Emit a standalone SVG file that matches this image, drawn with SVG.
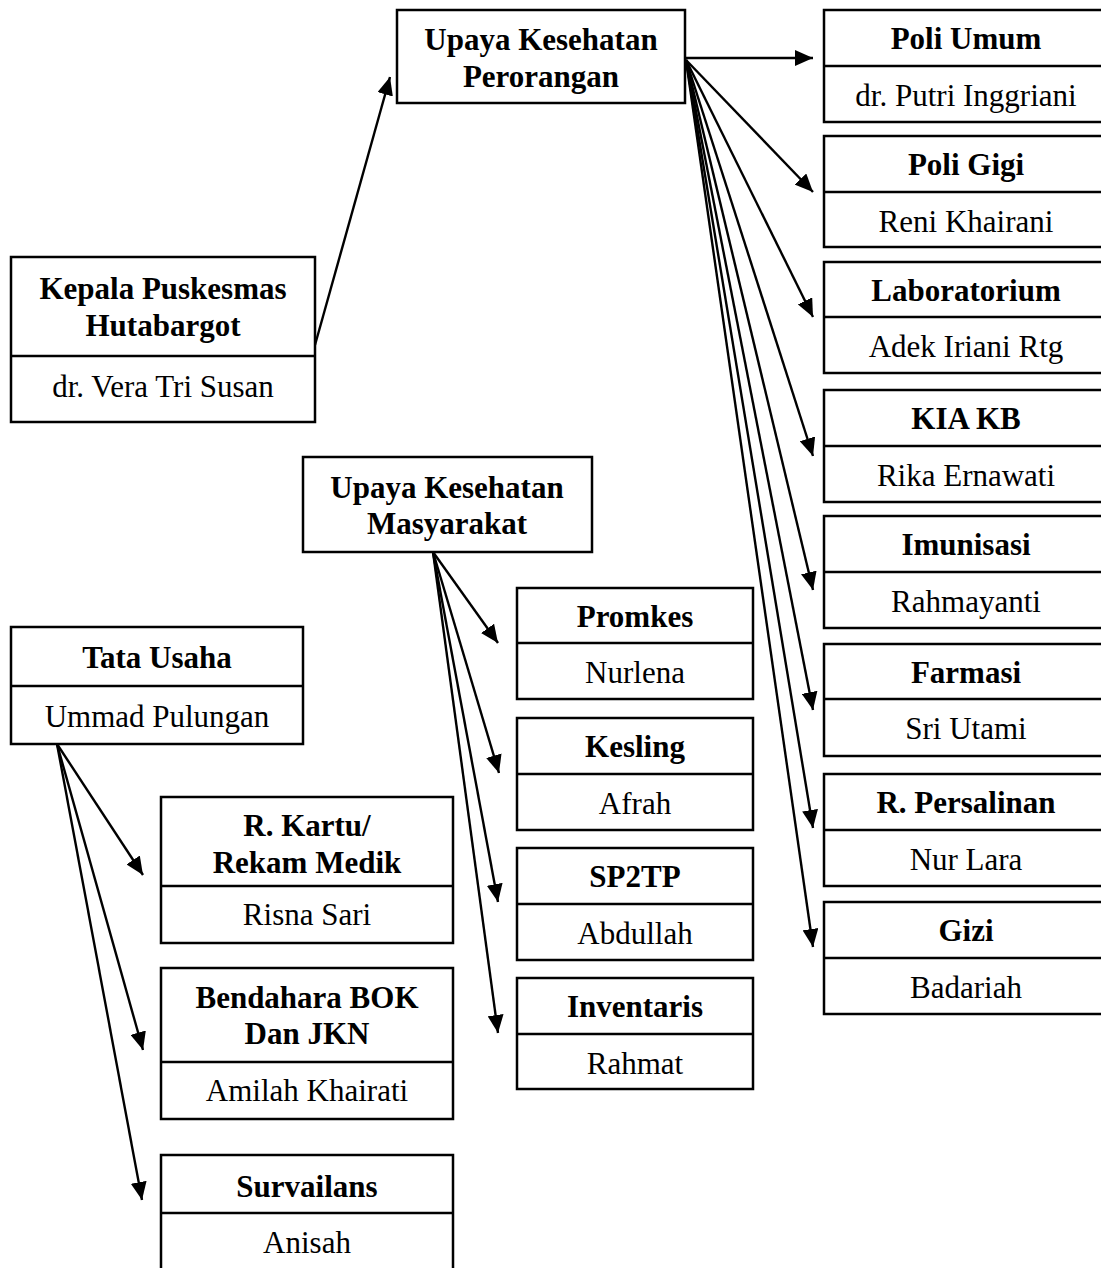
<svg xmlns="http://www.w3.org/2000/svg" width="1101" height="1268" viewBox="0 0 1101 1268">
<style>
.box{fill:#fff;stroke:#000;stroke-width:2.5}
.div{stroke:#000;stroke-width:2.5}
.t{font-family:"Liberation Serif","Times New Roman",serif;font-size:31px;font-weight:bold;text-anchor:middle;fill:#000}
.n{font-family:"Liberation Serif","Times New Roman",serif;font-size:31px;text-anchor:middle;fill:#000}
.c{stroke:#000;stroke-width:2.4;fill:none;marker-end:url(#ah)}
</style>
<defs>
<marker id="ah" markerUnits="userSpaceOnUse" markerWidth="20" markerHeight="16" refX="18" refY="8" orient="auto">
<path d="M0,0 L18,8 L0,16 z" fill="#000"/>
</marker>
</defs>
<rect width="1101" height="1268" fill="#fff"/>
<g id="connectors">
<line class="c" x1="315" y1="345" x2="390" y2="77"/>
<line class="c" x1="685" y1="58" x2="813" y2="58"/>
<line class="c" x1="686" y1="60" x2="813" y2="192"/>
<line class="c" x1="686" y1="60" x2="813" y2="317"/>
<line class="c" x1="686" y1="60" x2="813" y2="456"/>
<line class="c" x1="686" y1="60" x2="813" y2="590"/>
<line class="c" x1="686" y1="60" x2="813" y2="710"/>
<line class="c" x1="686" y1="60" x2="813" y2="828"/>
<line class="c" x1="686" y1="60" x2="813" y2="947"/>
<line class="c" x1="433" y1="552" x2="498" y2="643"/>
<line class="c" x1="433" y1="552" x2="499" y2="773"/>
<line class="c" x1="433" y1="552" x2="498" y2="902"/>
<line class="c" x1="433" y1="552" x2="498" y2="1033"/>
<line class="c" x1="57" y1="744" x2="143" y2="875"/>
<line class="c" x1="57" y1="744" x2="143" y2="1050"/>
<line class="c" x1="57" y1="744" x2="142" y2="1200"/>
</g>
<g id="kepala">
<rect class="box" x="11" y="257" width="304" height="165"/>
<line class="div" x1="11" y1="356" x2="315" y2="356"/>
<text class="t" x="163" y="299">Kepala Puskesmas</text>
<text class="t" x="163" y="336">Hutabargot</text>
<text class="n" x="163" y="397">dr. Vera Tri Susan</text>
</g>
<g id="ukp">
<rect class="box" x="397" y="10" width="288" height="93"/>
<text class="t" x="541" y="50">Upaya Kesehatan</text>
<text class="t" x="541" y="87">Perorangan</text>
</g>
<g id="ukm">
<rect class="box" x="303" y="457" width="289" height="95"/>
<text class="t" x="447" y="498">Upaya Kesehatan</text>
<text class="t" x="447" y="534">Masyarakat</text>
</g>
<g id="tata-usaha">
<rect class="box" x="11" y="627" width="292" height="117"/>
<line class="div" x1="11" y1="686" x2="303" y2="686"/>
<text class="t" x="157" y="668">Tata Usaha</text>
<text class="n" x="157" y="727">Ummad Pulungan</text>
</g>
<g id="poli-umum">
<rect class="box" x="824" y="10" width="284" height="112"/>
<line class="div" x1="824" y1="66" x2="1108" y2="66"/>
<text class="t" x="966" y="49">Poli Umum</text>
<text class="n" x="966" y="106">dr. Putri Inggriani</text>
</g>
<g id="poli-gigi">
<rect class="box" x="824" y="136" width="284" height="111"/>
<line class="div" x1="824" y1="192" x2="1108" y2="192"/>
<text class="t" x="966" y="175">Poli Gigi</text>
<text class="n" x="966" y="232">Reni Khairani</text>
</g>
<g id="laboratorium">
<rect class="box" x="824" y="262" width="284" height="111"/>
<line class="div" x1="824" y1="317" x2="1108" y2="317"/>
<text class="t" x="966" y="301">Laboratorium</text>
<text class="n" x="966" y="357">Adek Iriani Rtg</text>
</g>
<g id="kia-kb">
<rect class="box" x="824" y="390" width="284" height="112"/>
<line class="div" x1="824" y1="446" x2="1108" y2="446"/>
<text class="t" x="966" y="429">KIA KB</text>
<text class="n" x="966" y="486">Rika Ernawati</text>
</g>
<g id="imunisasi">
<rect class="box" x="824" y="516" width="284" height="112"/>
<line class="div" x1="824" y1="572" x2="1108" y2="572"/>
<text class="t" x="966" y="555">Imunisasi</text>
<text class="n" x="966" y="612">Rahmayanti</text>
</g>
<g id="farmasi">
<rect class="box" x="824" y="644" width="284" height="112"/>
<line class="div" x1="824" y1="699" x2="1108" y2="699"/>
<text class="t" x="966" y="683">Farmasi</text>
<text class="n" x="966" y="739">Sri Utami</text>
</g>
<g id="r-persalinan">
<rect class="box" x="824" y="774" width="284" height="112"/>
<line class="div" x1="824" y1="830" x2="1108" y2="830"/>
<text class="t" x="966" y="813">R. Persalinan</text>
<text class="n" x="966" y="870">Nur Lara</text>
</g>
<g id="gizi">
<rect class="box" x="824" y="902" width="284" height="112"/>
<line class="div" x1="824" y1="958" x2="1108" y2="958"/>
<text class="t" x="966" y="941">Gizi</text>
<text class="n" x="966" y="998">Badariah</text>
</g>
<g id="promkes">
<rect class="box" x="517" y="588" width="236" height="111"/>
<line class="div" x1="517" y1="643" x2="753" y2="643"/>
<text class="t" x="635" y="627">Promkes</text>
<text class="n" x="635" y="683">Nurlena</text>
</g>
<g id="kesling">
<rect class="box" x="517" y="718" width="236" height="112"/>
<line class="div" x1="517" y1="774" x2="753" y2="774"/>
<text class="t" x="635" y="757">Kesling</text>
<text class="n" x="635" y="814">Afrah</text>
</g>
<g id="sp2tp">
<rect class="box" x="517" y="848" width="236" height="112"/>
<line class="div" x1="517" y1="904" x2="753" y2="904"/>
<text class="t" x="635" y="887">SP2TP</text>
<text class="n" x="635" y="944">Abdullah</text>
</g>
<g id="inventaris">
<rect class="box" x="517" y="978" width="236" height="111"/>
<line class="div" x1="517" y1="1034" x2="753" y2="1034"/>
<text class="t" x="635" y="1017">Inventaris</text>
<text class="n" x="635" y="1074">Rahmat</text>
</g>
<g id="r-kartu">
<rect class="box" x="161" y="797" width="292" height="146"/>
<line class="div" x1="161" y1="886" x2="453" y2="886"/>
<text class="t" x="307" y="836">R. Kartu/</text>
<text class="t" x="307" y="873">Rekam Medik</text>
<text class="n" x="307" y="925">Risna Sari</text>
</g>
<g id="bendahara">
<rect class="box" x="161" y="968" width="292" height="151"/>
<line class="div" x1="161" y1="1062" x2="453" y2="1062"/>
<text class="t" x="307" y="1008">Bendahara BOK</text>
<text class="t" x="307" y="1044">Dan JKN</text>
<text class="n" x="307" y="1101">Amilah Khairati</text>
</g>
<g id="survailans">
<rect class="box" x="161" y="1155" width="292" height="125"/>
<line class="div" x1="161" y1="1213" x2="453" y2="1213"/>
<text class="t" x="307" y="1197">Survailans</text>
<text class="n" x="307" y="1253">Anisah</text>
</g>
</svg>
